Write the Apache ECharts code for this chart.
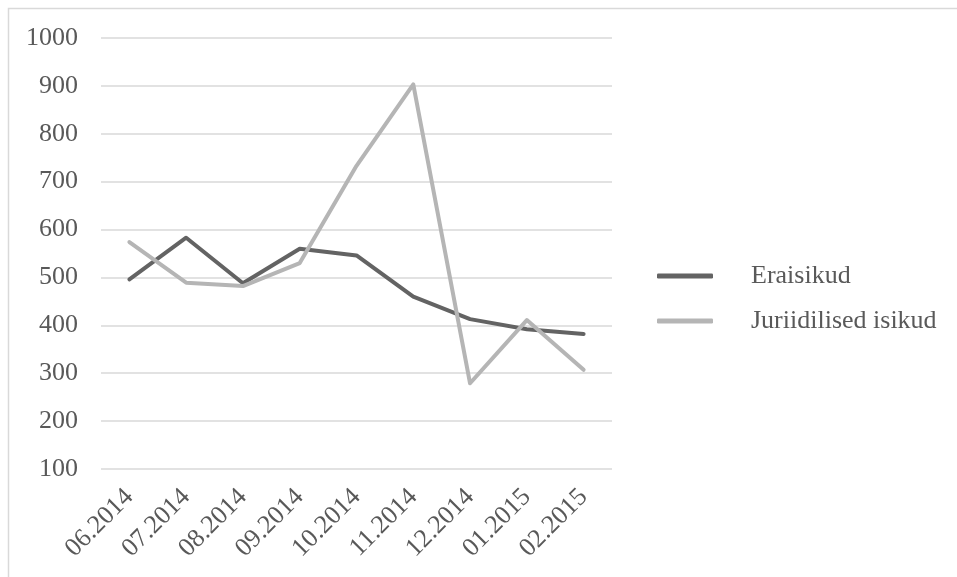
<!DOCTYPE html>
<html>
<head>
<meta charset="utf-8">
<script src="https://cdn.jsdelivr.net/npm/echarts@6/dist/echarts.min.js"></script>
<style>
  html, body { margin: 0; padding: 0; background: #fff; }
  #chart { width: 957px; height: 577px; }
</style>
</head>
<body>
<div id="chart"></div>
<script>
// Monthly counts, private persons vs. legal entities
const months = ['06.2014', '07.2014', '08.2014', '09.2014', '10.2014', '11.2014', '12.2014', '01.2015', '02.2015'];
const eraisikud = [496, 583, 488, 560, 546, 460, 413, 392, 382];
const juriidilised = [574, 489, 482, 530, 733, 903, 279, 411, 307];
const seriesNames = ['Eraisikud', 'Juriidilised isikud'];

const textColor = '#595959';
const fontFamily = '"Liberation Serif", "Times New Roman", serif';
const fontSize = 26;

const chart = echarts.init(document.getElementById('chart'));
chart.setOption({
  backgroundColor: '#ffffff',
  animation: false,
  textStyle: { fontFamily: fontFamily, color: textColor },
  graphic: [{
    type: 'rect',
    shape: { x: 8.5, y: 8.5, width: 1000, height: 1000 },
    style: { fill: 'none', stroke: '#d9d9d9', lineWidth: 1.5 },
    silent: true
  }],
  grid: { left: 101, right: 345, top: 38, bottom: 108 },
  legend: {
    orient: 'vertical',
    left: 652,
    top: 258,
    itemWidth: 56,
    itemHeight: 5,
    itemGap: 19,
    icon: 'roundRect',
    data: seriesNames,
    textStyle: {
      fontFamily: fontFamily, fontSize: fontSize, color: textColor,
      padding: [0, 0, 0, 33], lineHeight: 26
    }
  },
  xAxis: {
    type: 'category',
    data: months,
    boundaryGap: true,
    axisLine: { show: false },
    axisTick: { show: false },
    axisLabel: {
      rotate: 45, margin: 24, interval: 0,
      fontFamily: fontFamily, fontSize: fontSize, color: textColor
    }
  },
  yAxis: {
    type: 'value',
    min: 100, max: 1000, interval: 100,
    axisLine: { show: false },
    axisTick: { show: false },
    splitLine: { lineStyle: { color: '#d9d9d9', width: 1.5 } },
    axisLabel: {
      margin: 23, fontFamily: fontFamily, fontSize: fontSize, color: textColor,
      formatter: function (v) { return String(v); }
    }
  },
  series: [
    {
      name: seriesNames[0], type: 'line', data: eraisikud,
      symbol: 'none',
      itemStyle: { color: '#636363' },
      lineStyle: { color: '#636363', width: 4, cap: 'round', join: 'round' }
    },
    {
      name: seriesNames[1], type: 'line', data: juriidilised,
      symbol: 'none',
      itemStyle: { color: '#b5b5b5' },
      lineStyle: { color: '#b5b5b5', width: 4, cap: 'round', join: 'round' }
    }
  ]
});
</script>
</body>
</html>
